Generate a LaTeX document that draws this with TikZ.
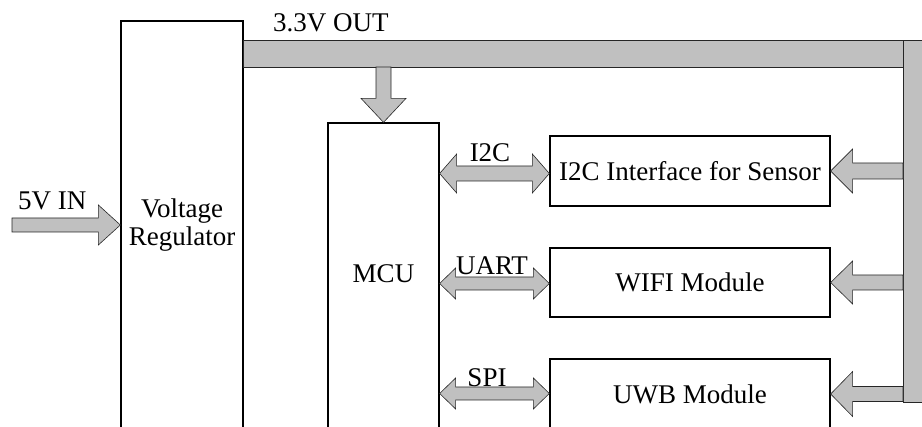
\documentclass[tikz,border=0pt]{standalone}
\usepackage{fontspec}
\setmainfont{Liberation Serif}
\usetikzlibrary{calc}
\definecolor{busgray}{RGB}{192,192,192}
\tikzset{
  txt/.style={font=\fontsize{27}{28}\selectfont, inner sep=0pt},
  block/.style={draw=black, line width=1.3pt, fill=white, txt},
  fat/.style={draw=black!85, line width=0.6pt, fill=busgray, line join=miter},
}
% block arrow pointing along x: tail, tip, head length (signed), head half width, shaft half width
\newcommand\fatsingle[5]{%
  \path[fat] ($(#1)+(0,{0-(#5)})$) -- ($(#2)+({0-(#3)},{0-(#5)})$) -- ($(#2)+({0-(#3)},{0-(#4)})$)
    -- (#2) -- ($(#2)+({0-(#3)},#4)$) -- ($(#2)+({0-(#3)},#5)$) -- ($(#1)+(0,#5)$) -- cycle;}
% double-headed block arrow: left tip, right tip, head length, head half width, shaft half width
\newcommand\fatdouble[5]{%
  \path[fat] (#1) -- ($(#1)+(#3,-#4)$) -- ($(#1)+(#3,-#5)$) -- ($(#2)+(-#3,-#5)$) -- ($(#2)+(-#3,-#4)$)
    -- (#2) -- ($(#2)+(-#3,#4)$) -- ($(#2)+(-#3,#5)$) -- ($(#1)+(#3,#5)$) -- ($(#1)+(#3,#4)$) -- cycle;}
\begin{document}
\begin{tikzpicture}[x=1pt,y=-1pt]
\useasboundingbox (0,0) rectangle (922,427);
\clip (0,0) rectangle (922,427);

% blocks
\node[block, minimum width=122pt, minimum height=425pt] (reg) at (182,233.5) {};
\node[block, minimum width=111pt, minimum height=320pt] (mcu) at (383.5,283) {};
\node[block, minimum width=280pt, minimum height=70pt] (i2cbox) at (690,171) {I2C Interface for Sensor};
\node[block, minimum width=280pt, minimum height=69pt] (wifi) at (690,282.5) {WIFI Module};
\node[block, minimum width=280pt, minimum height=70pt] (uwb) at (690,394) {UWB Module};

\node[txt, anchor=base] (regA) at (182,218) {Voltage};
\node[txt, anchor=base] (regB) at (182,246) {Regulator};
\node[txt, anchor=base] (mcutxt) at (383.5,283) {MCU};

% 3.3 V supply bus
\coordinate (hbusL) at (243,40);
\coordinate (vbusL) at (903,40);
\path[fat] (hbusL) rectangle (903,67);
\path[fat] (vbusL) rectangle (935,402);
\node[txt, anchor=base west] (vout) at (273,32) {3.3V OUT};

% supply into the MCU
\coordinate (dtail) at (383.5,67);
\path[fat] ($(dtail)+(-7.5,0)$) -- ($(mcu.north)+(-7.5,-24)$) -- ($(mcu.north)+(-22.5,-24)$) -- (mcu.north)
  -- ($(mcu.north)+(22.5,-24)$) -- ($(mcu.north)+(7.5,-24)$) -- ($(dtail)+(7.5,0)$) -- cycle;

% 5 V input
\coordinate (vin) at (12,225);
\fatsingle{vin}{reg.west |- vin}{22}{20}{7}
\node[txt, anchor=base west] (vintxt) at (18,210) {5V IN};

% supply from the bus into the modules
\fatsingle{vbusL |- i2cbox.east}{i2cbox.east}{-22}{22}{8}
\fatsingle{vbusL |- wifi.east}{wifi.east}{-22}{21.5}{7.5}
\fatsingle{vbusL |- uwb.east}{uwb.east}{-22}{22.5}{7.5}

% MCU buses
\coordinate (i2cy) at (0,173.5);
\fatdouble{mcu.east |- i2cy}{i2cbox.west |- i2cy}{17}{19.5}{7.5}
\node[txt, anchor=base] (i2clab) at (490,162) {I2C};
\coordinate (uarty) at (0,283.5);
\fatdouble{mcu.east |- uarty}{wifi.west |- uarty}{16}{15.5}{6.5}
\node[txt, anchor=base] (uartlab) at (492,275) {UART};
\coordinate (spiy) at (0,393.5);
\fatdouble{mcu.east |- spiy}{uwb.west |- spiy}{16}{15.5}{6.5}
\node[txt, anchor=base] (spilab) at (487,387) {SPI};
\end{tikzpicture}
\end{document}
